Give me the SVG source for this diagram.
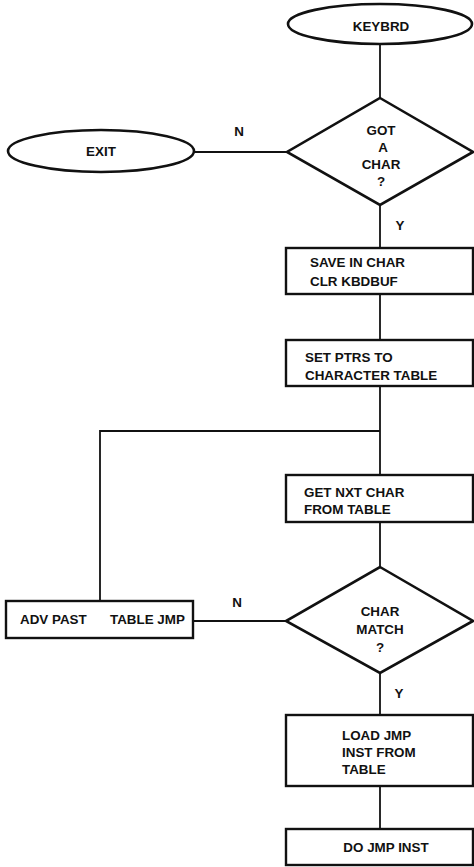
<svg xmlns="http://www.w3.org/2000/svg" width="474" height="867" viewBox="0 0 474 867">
<style>
.s{fill:#fff;stroke:#111;stroke-width:2.6}
.b{fill:#fff;stroke:#111;stroke-width:2.4}
.c{fill:none;stroke:#111;stroke-width:1.8}
text{font-family:"Liberation Sans",Arial,sans-serif;font-weight:bold;font-size:13.4px;fill:#111}
.m{text-anchor:middle}
</style>
<rect width="474" height="867" fill="#fff"/>
<g id="connectors">
<line class="c" x1="380" y1="43" x2="380" y2="98"/>
<line class="c" x1="194" y1="152" x2="287" y2="152"/>
<line class="c" x1="380" y1="205" x2="380" y2="248"/>
<line class="c" x1="380" y1="294" x2="380" y2="340"/>
<line class="c" x1="380" y1="386" x2="380" y2="475"/>
<polyline class="c" points="380,431 100,431 100,601"/>
<line class="c" x1="380" y1="522" x2="380" y2="567"/>
<line class="c" x1="193" y1="621" x2="286" y2="621"/>
<line class="c" x1="380" y1="673" x2="380" y2="715"/>
<line class="c" x1="380" y1="786" x2="380" y2="829"/>
<text x="239" y="136" class="m">N</text>
<text x="400" y="230" class="m">Y</text>
<text x="237" y="607" class="m">N</text>
<text x="399" y="698" class="m">Y</text>
</g>
<g id="keybrd">
<ellipse class="s" cx="380" cy="24" rx="92" ry="20"/>
<text x="381" y="31" class="m">KEYBRD</text>
</g>
<g id="gotchar">
<polygon class="s" points="380,98 473,152 380,205 287,152"/>
<text x="381" y="135" class="m">GOT</text>
<text x="383" y="152" class="m">A</text>
<text x="381" y="169" class="m">CHAR</text>
<text x="381" y="186" class="m">?</text>
</g>
<g id="exit">
<ellipse class="s" cx="101" cy="151" rx="93" ry="21"/>
<text x="101" y="156" class="m">EXIT</text>
</g>
<g id="save">
<rect class="b" x="286" y="248" width="187" height="46"/>
<text x="310" y="267">SAVE IN CHAR</text>
<text x="310" y="286">CLR KBDBUF</text>
</g>
<g id="setptrs">
<rect class="b" x="286" y="340" width="187" height="46"/>
<text x="305" y="362">SET PTRS TO</text>
<text x="305" y="380">CHARACTER TABLE</text>
</g>
<g id="getnxt">
<rect class="b" x="286" y="475" width="187" height="47"/>
<text x="304" y="497">GET NXT CHAR</text>
<text x="304" y="514">FROM TABLE</text>
</g>
<g id="charmatch">
<polygon class="s" points="380,567 473,621 380,673 286,621"/>
<text x="380" y="616" class="m">CHAR</text>
<text x="380" y="634" class="m">MATCH</text>
<text x="380" y="652" class="m">?</text>
</g>
<g id="advpast">
<rect class="b" x="6" y="601" width="187" height="37"/>
<text x="20" y="624">ADV PAST</text>
<text x="110" y="624">TABLE JMP</text>
</g>
<g id="loadjmp">
<rect class="b" x="286" y="715" width="187" height="71"/>
<text x="342" y="740">LOAD JMP</text>
<text x="342" y="757">INST FROM</text>
<text x="342" y="774">TABLE</text>
</g>
<g id="dojmp">
<rect class="b" x="286" y="829" width="187" height="36"/>
<text x="386" y="852" class="m">DO JMP INST</text>
</g>
</svg>
